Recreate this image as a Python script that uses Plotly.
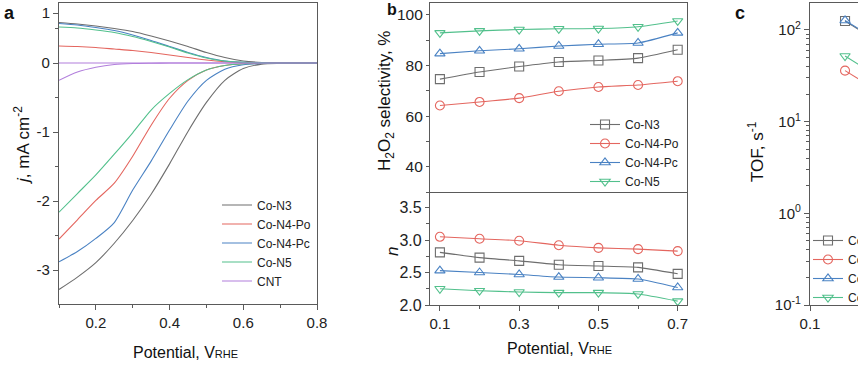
import plotly.graph_objects as go

W, H = 858, 366
def X(px): return px / W
def Y(py): return 1 - py / H

FONT = "Arial, Liberation Sans, sans-serif"
COL = {"Co-N3": "#6e6e6e", "Co-N4-Po": "#e4665f", "Co-N4-Pc": "#4a82c3",
       "Co-N5": "#52c08c", "CNT": "#b27fdc"}

# ---------------- Panel a: LSV (disk and ring currents) ----------------
pot_a = [0.10, 0.15, 0.20, 0.25, 0.30, 0.35, 0.40, 0.45, 0.50, 0.55, 0.60, 0.65, 0.70, 0.75, 0.80]
disk_CoN3   = [-3.28, -3.10, -2.89, -2.61, -2.28, -1.90, -1.46, -0.99, -0.57, -0.25, -0.08, -0.015, -0.004, 0, 0]
disk_CoN4Po = [-2.55, -2.27, -1.99, -1.74, -1.35, -0.90, -0.51, -0.25, -0.10, -0.035, -0.01, -0.003, 0, 0, 0]
disk_CoN4Pc = [-2.88, -2.73, -2.54, -2.31, -1.84, -1.42, -0.97, -0.55, -0.25, -0.09, -0.025, -0.005, 0, 0, 0]
disk_CoN5   = [-2.16, -1.89, -1.62, -1.32, -1.01, -0.68, -0.44, -0.24, -0.10, -0.035, -0.01, -0.003, 0, 0, 0]
disk_CNT    = [-0.25, -0.13, -0.06, -0.02, -0.006, -0.002, 0, 0, 0, 0, 0, 0, 0, 0, 0]
ring_CoN3   = [0.81, 0.78, 0.74, 0.69, 0.63, 0.54, 0.44, 0.33, 0.21, 0.11, 0.04, 0.01, 0.002, 0, 0]
ring_CoN4Po = [0.34, 0.33, 0.31, 0.28, 0.25, 0.21, 0.16, 0.11, 0.06, 0.025, 0.008, 0.002, 0, 0, 0]
ring_CoN4Pc = [0.79, 0.76, 0.71, 0.65, 0.56, 0.45, 0.33, 0.21, 0.11, 0.04, 0.012, 0.002, 0, 0, 0]
ring_CoN5   = [0.72, 0.70, 0.66, 0.61, 0.53, 0.43, 0.32, 0.20, 0.10, 0.04, 0.012, 0.002, 0, 0, 0]
ring_CNT    = [0, 0, 0, 0, 0, 0, 0, 0, 0, 0, 0, 0, 0, 0, 0]

# ---------------- Panel b: selectivity and electron number ----------------
pot_b = [0.1, 0.2, 0.3, 0.4, 0.5, 0.6, 0.7]
sel_CoN3   = [74.6, 77.4, 79.6, 81.4, 82.0, 82.9, 86.2]
sel_CoN4Po = [64.2, 65.6, 67.1, 69.8, 71.5, 72.3, 73.8]
sel_CoN4Pc = [84.7, 85.8, 86.6, 87.7, 88.4, 88.9, 92.9]
sel_CoN5   = [92.9, 93.7, 94.2, 94.5, 94.6, 95.3, 97.6]
n_CoN3   = [2.81, 2.73, 2.68, 2.62, 2.60, 2.58, 2.48]
n_CoN4Po = [3.05, 3.02, 2.99, 2.92, 2.88, 2.86, 2.83]
n_CoN4Pc = [2.53, 2.50, 2.47, 2.43, 2.42, 2.40, 2.27]
n_CoN5   = [2.25, 2.22, 2.20, 2.19, 2.19, 2.17, 2.06]

# ---------------- Panel c: TOF (only left edge visible) ----------------
pot_c = [0.2, 0.3]
tof_CoN3   = [125, 72]
tof_CoN4Po = [36, 21]
tof_CoN4Pc = [127, 74]
tof_CoN5   = [52, 30]

names4 = ["Co-N3", "Co-N4-Po", "Co-N4-Pc", "Co-N5"]
symbols = {"Co-N3": "square-open", "Co-N4-Po": "circle-open",
           "Co-N4-Pc": "triangle-up-open", "Co-N5": "triangle-down-open"}

fig = go.Figure()

disk = {"Co-N3": disk_CoN3, "Co-N4-Po": disk_CoN4Po, "Co-N4-Pc": disk_CoN4Pc,
        "Co-N5": disk_CoN5, "CNT": disk_CNT}
ring = {"Co-N3": ring_CoN3, "Co-N4-Po": ring_CoN4Po, "Co-N4-Pc": ring_CoN4Pc,
        "Co-N5": ring_CoN5, "CNT": ring_CNT}
for nm in ["Co-N3", "Co-N4-Po", "Co-N4-Pc", "Co-N5", "CNT"]:
    fig.add_trace(go.Scatter(x=pot_a, y=disk[nm], mode="lines", name=nm,
                             line=dict(color=COL[nm], width=1.1, shape="spline", smoothing=0.7),
                             xaxis="x", yaxis="y", legend="legend"))
for nm in ["Co-N3", "Co-N4-Po", "Co-N4-Pc", "Co-N5", "CNT"]:
    fig.add_trace(go.Scatter(x=pot_a, y=ring[nm], mode="lines", name=nm, showlegend=False,
                             line=dict(color=COL[nm], width=1.1, shape="spline", smoothing=0.7),
                             xaxis="x", yaxis="y2"))

sel = {"Co-N3": sel_CoN3, "Co-N4-Po": sel_CoN4Po, "Co-N4-Pc": sel_CoN4Pc, "Co-N5": sel_CoN5}
nn = {"Co-N3": n_CoN3, "Co-N4-Po": n_CoN4Po, "Co-N4-Pc": n_CoN4Pc, "Co-N5": n_CoN5}
tof = {"Co-N3": tof_CoN3, "Co-N4-Po": tof_CoN4Po, "Co-N4-Pc": tof_CoN4Pc, "Co-N5": tof_CoN5}
mk = lambda nm: dict(symbol=symbols[nm], size=9, color=COL[nm], line=dict(width=1.1))
for nm in names4:
    fig.add_trace(go.Scatter(x=pot_b, y=sel[nm], mode="lines+markers", name=nm,
                             line=dict(color=COL[nm], width=1.1, shape="spline", smoothing=0.5),
                             marker=mk(nm), xaxis="x2", yaxis="y3", legend="legend2"))
for nm in names4:
    fig.add_trace(go.Scatter(x=pot_b, y=nn[nm], mode="lines+markers", name=nm, showlegend=False,
                             line=dict(color=COL[nm], width=1.1, shape="spline", smoothing=0.5),
                             marker=mk(nm), xaxis="x3", yaxis="y4"))
for nm in names4:
    fig.add_trace(go.Scatter(x=pot_c, y=tof[nm], mode="lines+markers", name=nm,
                             line=dict(color=COL[nm], width=1.1),
                             marker=mk(nm), xaxis="x4", yaxis="y5", legend="legend3"))

LC = "#5a5a5a"
def AX(size=15):
    return dict(showline=True, linecolor=LC, linewidth=1.2, showgrid=False, zeroline=False,
                ticks="outside", ticklen=5, tickcolor=LC, tickwidth=1,
                tickfont=dict(family=FONT, size=size, color="#222"))
MIN = lambda d: dict(ticks="outside", ticklen=3, tickcolor=LC, dtick=d, showgrid=False)
LEG = dict(xanchor="left", yanchor="middle", bgcolor="rgba(0,0,0,0)",
           font=dict(family=FONT, size=12, color="#222"), itemwidth=30)

fig.update_layout(
    width=W, height=H, margin=dict(l=0, r=0, t=0, b=0, autoexpand=False),
    paper_bgcolor="white", plot_bgcolor="white", font=dict(family=FONT, color="#222"),
    xaxis=dict(AX(15), domain=[X(59), X(317)], range=[0.1, 0.8], anchor="y", mirror=True,
               tickvals=[0.2, 0.4, 0.6, 0.8], ticktext=["0.2", "0.4", "0.6", "0.8"],
               minor=MIN(0.1)),
    yaxis=dict(AX(15), domain=[Y(304), Y(3)], range=[-3.49, 0.87], anchor="x", mirror=True,
               tickvals=[0, -1, -2, -3], ticktext=["0", "-1", "-2", "-3"], minor=MIN(0.5)),
    yaxis2=dict(AX(15), overlaying="y", range=[-4.82, 1.2], anchor="x", side="left",
                showline=False, tickvals=[1], ticktext=["1"]),
    xaxis2=dict(AX(15), domain=[X(430), X(687)], range=[0.075, 0.7235], anchor="y3", mirror=True,
                showticklabels=False, ticks=""),
    yaxis3=dict(AX(15.5), domain=[Y(192), Y(3)], range=[30, 104.7], anchor="x2", mirror=True,
                ticklen=3, tickvals=[40, 60, 80, 100], minor=MIN(10)),
    xaxis3=dict(AX(15), domain=[X(430), X(687)], range=[0.075, 0.7235], anchor="y4", mirror=False,
                tickvals=[0.1, 0.3, 0.5, 0.7], ticktext=["0.1", "0.3", "0.5", "0.7"],
                minor=MIN(0.1)),
    yaxis4=dict(AX(16), domain=[Y(305), Y(192)], range=[2.0, 3.74], anchor="x3", mirror=True,
                ticklen=4, tickvals=[2.0, 2.5, 3.0, 3.5], ticktext=["2.0", "2.5", "3.0", "3.5"],
                minor=MIN(0.25)),
    xaxis4=dict(AX(15), domain=[X(810), 1.0], range=[0.1, 0.237], anchor="y5", mirror=True,
                tickvals=[0.1, 0.3], ticktext=["0.1", "0.3"]),
    yaxis5=dict(AX(15), domain=[Y(305), Y(3)], type="log", range=[-1, 2.294], anchor="x4",
                tickvals=[0.1, 1, 10, 100],
                ticktext=["10<sup>-1</sup>", "10<sup>0</sup>", "10<sup>1</sup>", "10<sup>2</sup>"],
                minor=dict(ticks="outside", ticklen=3, tickcolor=LC,
                           tickvals=[m * 10 ** e for e in (-1, 0, 1, 2) for m in range(2, 10)])),
    legend=dict(LEG, x=X(217), y=Y(243)),
    legend2=dict(LEG, x=X(585), y=Y(153)),
    legend3=dict(LEG, x=X(808), y=Y(269)),
    showlegend=True,
)

def ann(text, x, y, size=16, angle=0, bold=False):
    fig.add_annotation(text=f"<b>{text}</b>" if bold else text, x=X(x), y=Y(y),
                       xref="paper", yref="paper", showarrow=False, textangle=angle,
                       font=dict(family=FONT, size=size, color="#111"),
                       xanchor="center", yanchor="middle")

RHE = "Potential, V<span style='font-size:11px'>RHE</span>"
ann("a", 9, 13, size=18, bold=True)
ann("b", 392, 9, size=16, bold=True)
ann("c", 740, 13, size=18, bold=True)
ann("<i>j</i>, mA cm<sup>-2</sup>", 22, 145, size=17, angle=-90)
ann(RHE, 185, 352)
ann(RHE, 559, 348)
ann("H<sub>2</sub>O<sub>2</sub> selectivity, %", 386, 101, size=17, angle=-90)
ann("<i>n</i>", 392, 252, size=17, angle=-90)
ann("TOF, s<sup>-1</sup>", 756, 152, size=17, angle=-90)

fig.write_html("out.html", config={"displayModeBar": False},
               post_script="document.body.style.margin='0px';")
